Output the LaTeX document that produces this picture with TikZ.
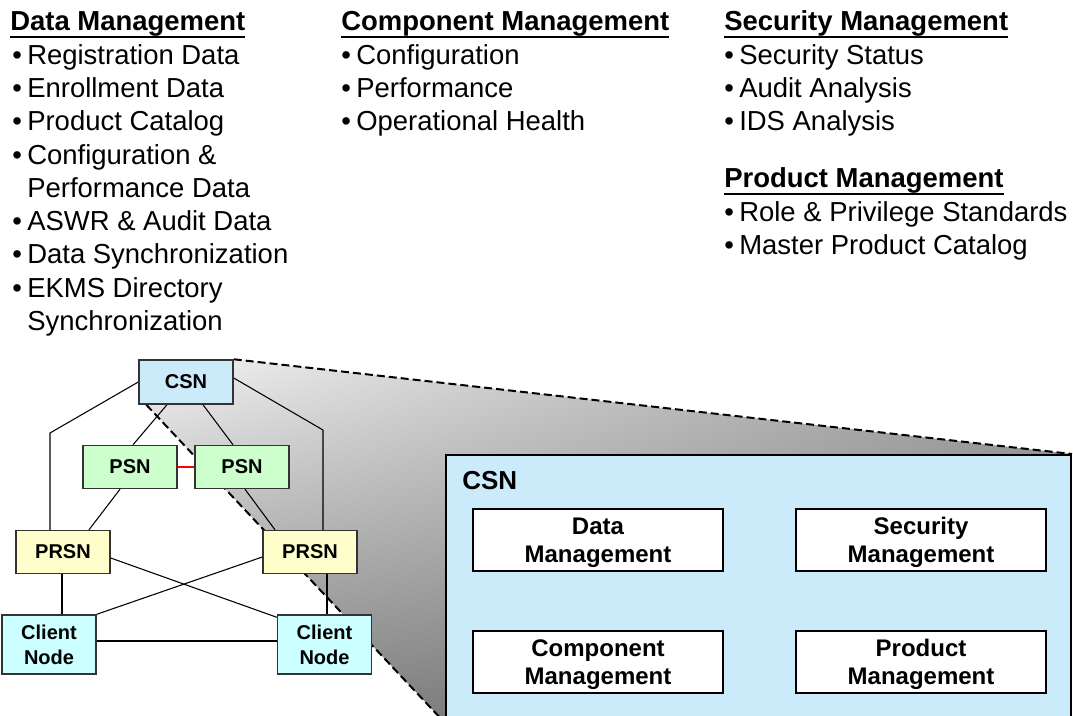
\documentclass[tikz,border=0pt]{standalone}
\usepackage{fontspec}
\setmainfont{Liberation Sans}
\usetikzlibrary{calc,backgrounds,shadings}

\definecolor{csnblue}{HTML}{CCEBFA}
\definecolor{psngreen}{HTML}{CCFFCC}
\definecolor{prsnyellow}{HTML}{FFFFCC}
\definecolor{clientcyan}{HTML}{CCFFFF}
\definecolor{boxline}{HTML}{333333}

% underlined bold heading, rule set just below the baseline
\newcommand\ulhead[1]{\setbox0\hbox{\bfseries #1}\rlap{\rule[-6pt]{\wd0}{1.8pt}}\box0}
% bullet in a fixed-width slot so the item text lines up
\newcommand\bul{\makebox[11.25pt][l]{\textbullet}}

\tikzset{
  net/.style={draw=boxline, line width=1.1pt, align=center, inner sep=0pt,
    minimum width=70.5pt, minimum height=32.25pt,
    font=\fontsize{15}{18.75}\selectfont\bfseries},
  csnnode/.style={net, fill=csnblue, minimum height=33pt},
  psnnode/.style={net, fill=psngreen},
  prsnnode/.style={net, fill=prsnyellow},
  clientnode/.style={net, fill=clientcyan, minimum height=44.25pt},
  bigbox/.style={draw=black, line width=1.5pt, fill=csnblue, inner sep=0pt,
    minimum width=468.75pt, minimum height=200.25pt},
  mgmt/.style={draw=black, line width=1.1pt, fill=white, inner sep=0pt, align=center,
    minimum width=187.5pt, minimum height=46.5pt, text depth=0pt,
    font=\fontsize{18}{21}\selectfont\bfseries},
  topline/.style={anchor=base west, inner sep=0pt, font=\fontsize{20.6}{24.75}\selectfont},
  link/.style={line width=0.8pt, black},
  peerlink/.style={line width=0.8pt, red},
  zoomedge/.style={line width=1.5pt, dash pattern=on 6pt off 3pt},
}

\begin{document}
\begin{tikzpicture}[x=0.75pt, y=-0.75pt]
\useasboundingbox (0,0) rectangle (1073,715);

% ---- service lists ----
\node[topline] (dmh) at (10,30) {\ulhead{Data Management}};
\node[topline] (dm1) at (12,64)  {\bul Registration Data};
\node[topline] (dm2) at (12,97)  {\bul Enrollment Data};
\node[topline] (dm3) at (12,130) {\bul Product Catalog};
\node[topline] (dm4) at (12,164) {\bul Configuration \&};
\node[topline] (dm4b) at (27,197) {Performance Data};
\node[topline] (dm5) at (12,230) {\bul ASWR \& Audit Data};
\node[topline] (dm6) at (12,263) {\bul Data Synchronization};
\node[topline] (dm7) at (12,297) {\bul EKMS Directory};
\node[topline] (dm7b) at (27,330) {Synchronization};

\node[topline] (cmh) at (341,30) {\ulhead{Component Management}};
\node[topline] (cm1) at (341,64)  {\bul Configuration};
\node[topline] (cm2) at (341,97)  {\bul Performance};
\node[topline] (cm3) at (341,130) {\bul Operational Health};

\node[topline] (smh) at (724,30) {\ulhead{Security Management}};
\node[topline] (sm1) at (724,64)  {\bul Security Status};
\node[topline] (sm2) at (724,97)  {\bul Audit Analysis};
\node[topline] (sm3) at (724,130) {\bul IDS Analysis};

\node[topline] (pmh) at (724,187) {\ulhead{Product Management}};
\node[topline] (pm1) at (724,221) {\bul Role \& Privilege Standards};
\node[topline] (pm2) at (724,254) {\bul Master Product Catalog};

% ---- network hierarchy ----
\node[csnnode]    (csn)     at (186,382)   {CSN};
\node[psnnode]    (psnl)    at (130,467)   {PSN};
\node[psnnode]    (psnr)    at (242,467)   {PSN};
\node[prsnnode]   (prsnl)   at (63,552)    {PRSN};
\node[prsnnode]   (prsnr)   at (310,552)   {PRSN};
\node[clientnode] (clientl) at (49,644.5)  {Client\\Node};
\node[clientnode] (clientr) at (324.5,644.5) {Client\\Node};

\coordinate (lbend) at (50,433);
\coordinate (rbend) at (323,430);

% ---- expanded CSN ----
\node[bigbox] (big) at (758.5,588.5) {};
\node[anchor=base west, inner sep=0pt, font=\fontsize{19.5}{22}\selectfont\bfseries]
  (bigtitle) at (462,489) {CSN};
\node[mgmt] (dmbox) at (598,540) {Data\\Management};
\node[mgmt] (smbox) at (921,540) {Security\\Management};
\node[mgmt] (cmbox) at (598,662) {Component\\Management};
\node[mgmt] (pmbox) at (921,662) {Product\\Management};

\begin{pgfonlayer}{background}
  \fill[white] (0,0) rectangle (1073,715);
  % zoom wedge from the small CSN to the expanded view
  \shade[upper left=black!5, upper right=black!38, lower left=black!50, lower right=black!55]
    (csn.north east) -- (big.north east) -- (big.south west)
    -- ($(csn.south west)+(8,0)$) -- cycle;
  \draw[zoomedge] (csn.north east) -- (big.north east);
  \draw[zoomedge] ($(csn.south west)+(8,0)$) -- (big.south west);

  % links
  \draw[link] (csn.west) -- (lbend) -- (lbend |- prsnl.north);
  \draw[link] ($(csn.east)+(0,-4)$) -- (rbend) -- (rbend |- prsnr.north);
  \draw[link] ($(csn.south)+(-19,0)$) -- ($(psnl.north)+(3,0)$);
  \draw[link] ($(csn.south)+(17,0)$) -- ($(psnr.north)+(-9,0)$);
  \draw[peerlink] (psnl.east) -- (psnr.west);
  \draw[link] ($(psnl.south)+(-10,0)$) -- ($(prsnl.north)+(26,0)$);
  \draw[link] ($(psnr.south)+(3,0)$) -- ($(prsnr.north)+(-35,0)$);
  \draw[link] ($(prsnl.east)+(0,6)$) -- ($(clientr.north west)+(0,3)$);
  \draw[link] ($(prsnr.west)+(0,5)$) -- (clientl.north east);
  \draw[link] ($(prsnl.south)+(-1,0)$) -- ($(clientl.north)+(13,0)$);
  \draw[link] ($(prsnr.south)+(17,0)$) -- ($(clientr.north)+(2.5,0)$);
  \draw[link] ($(clientl.east)+(0,-3.5)$) -- ($(clientr.west)+(0,-3.5)$);
\end{pgfonlayer}
\end{tikzpicture}
\end{document}
